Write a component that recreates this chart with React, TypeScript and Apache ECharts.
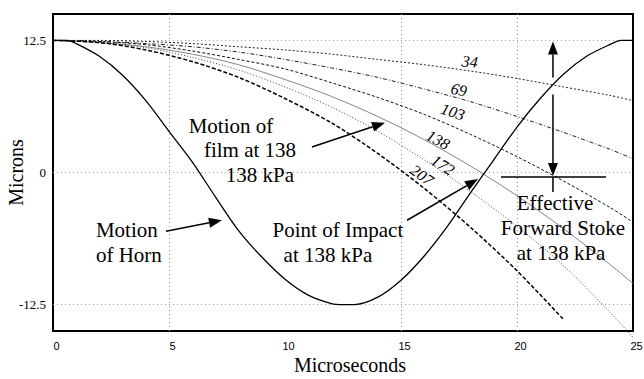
import React, { useEffect, useRef } from "react";
import * as echarts from "echarts";

// ---- axis / grid values ----
const yLabelValues = [-12.5, 0, 12.5];
const gridXValues = [5, 15, 20];
const gridYValues = [12.5, 0, -12.5];

// ---- Motion of horn ----
const hornT = [0, 0.6, 1, 2, 3, 4, 5, 6, 7, 8, 9, 10, 11, 12, 12.5, 13, 14, 15, 16, 17, 18, 19, 20, 21, 22, 23, 24, 24.5, 25];
const hornV = [12.5, 12.5, 12.2, 11.0, 9.2, 6.8, 3.9, 1.0, -2.3, -5.5, -8.0, -10.1, -11.6, -12.4, -12.5, -12.5, -11.8, -10.2, -7.9, -5.1, -1.9, 1.2, 4.3, 7.0, 9.3, 11.0, 12.1, 12.5, 12.5];

// ---- Motion of film at each pressure (kPa) ----
const filmT = [0, 2, 4, 6, 8, 10, 12, 14, 16, 18, 20, 22, 24, 25];
const film34 = [12.5, 12.5, 12.4, 12.2, 11.9, 11.6, 11.2, 10.7, 10.2, 9.6, 8.9, 8.1, 7.3, 6.8];
const film69 = [12.5, 12.4, 12.2, 11.9, 11.4, 10.7, 9.9, 9.0, 7.9, 6.7, 5.3, 3.8, 2.2, 1.3];
const film103 = [12.5, 12.4, 12.1, 11.5, 10.7, 9.8, 8.5, 7.1, 5.5, 3.6, 1.5, -0.8, -3.3, -4.7];
const film138 = [12.5, 12.3, 11.9, 11.2, 10.2, 8.8, 7.2, 5.3, 3.1, 0.6, -2.2, -5.3, -8.7, -10.5];
const film172 = [12.5, 12.3, 11.8, 10.9, 9.7, 8.1, 6.2, 3.9, 1.2, -1.8, -5.1, -8.8, -13.2, -15.6];
const film207T = [0, 2, 4, 6, 8, 10, 12, 14, 16, 18, 20, 22];
const film207 = [12.5, 12.3, 11.6, 10.5, 9.0, 7.0, 4.7, 1.8, -1.5, -5.2, -9.3, -13.9];

// ---- pressure labels (text, t, v, angle) ----
const pressureLabels = ["34", "69", "103", "138", "172", "207"];
const pressureLabelT = [17.97, 17.5, 17.24, 16.6, 16.81, 15.9];
const pressureLabelV = [10.5, 7.84, 5.75, 3.09, 0.71, -0.24];
const pressureLabelAngle = [6, 12, 18, 28, 33, 36];

const zip = (xs: number[], ys: number[]) => xs.map((x, i) => [x, ys[i]]);

const SERIF = '"Liberation Serif", "Times New Roman", Times, serif';
const SANS = '"Liberation Sans", Arial, Helvetica, sans-serif';

export default function App() {
  const ref = useRef<HTMLDivElement>(null);

  useEffect(() => {
    document.body.style.margin = "0";
    if (!ref.current) return;
    const chart = echarts.init(ref.current, undefined, { renderer: "svg" });

    const film = (name: string, t: number[], v: number[], lineStyle: any, clip = true) => ({
      name,
      type: "line",
      data: zip(t, v),
      showSymbol: false,
      symbol: "none",
      smooth: 0.3,
      clip,
      silent: true,
      lineStyle,
      z: 3,
    });

    const option: any = {
      animation: false,
      grid: {
        left: 53,
        right: 11,
        top: 14,
        bottom: 48,
        show: true,
        borderColor: "#000",
        borderWidth: 2,
        backgroundColor: "transparent",
        containLabel: false,
        outerBoundsMode: "none",
      },
      xAxis: {
        type: "value",
        min: 0,
        max: 25,
        interval: 5,
        axisLine: { show: false },
        axisTick: { show: false },
        splitLine: { show: false },
        axisLabel: {
          fontFamily: SANS,
          fontSize: 11,
          color: "#000",
          margin: 9,
          padding: [0, 0, 0, 7],
        },
        name: "Microseconds",
        nameLocation: "middle",
        nameGap: 24,
        nameMoveOverlap: false,
        nameTextStyle: { fontFamily: SERIF, fontSize: 20, color: "#000", padding: [0, 0, 0, 14] },
      },
      yAxis: {
        type: "value",
        min: -15,
        max: 15,
        interval: 2.5,
        axisLine: { show: false },
        axisTick: { show: false },
        splitLine: { show: false },
        axisLabel: {
          formatter: (v: number) => (yLabelValues.includes(v) ? String(v) : ""),
          fontFamily: SERIF,
          fontSize: 13,
          color: "#000",
          margin: 7,
        },
        name: "Microns",
        nameLocation: "middle",
        nameGap: 27,
        nameMoveOverlap: false,
        nameTextStyle: { fontFamily: SERIF, fontSize: 20, color: "#000" },
      },
      series: [
        {
          name: "Horn",
          type: "line",
          data: zip(hornT, hornV),
          showSymbol: false,
          symbol: "none",
          smooth: 0.3,
          silent: true,
          lineStyle: { color: "#000", width: 1.3 },
          z: 4,
          markLine: {
            silent: true,
            symbol: "none",
            label: { show: false },
            lineStyle: { type: [1, 3], color: "#999", width: 1 },
            z: 1,
            data: [
              ...gridYValues.map((y) => ({ yAxis: y })),
              ...gridXValues.map((x) => ({ xAxis: x })),
            ],
          },
        },
        film("34", filmT, film34, { type: [2, 2], color: "#222", width: 1 }),
        film("69", filmT, film69, { type: [4, 2, 1, 2], color: "#222", width: 1 }),
        film("103", filmT, film103, { type: [3, 2], color: "#111", width: 1 }),
        film("138", filmT, film138, { type: "solid", color: "#777", width: 0.9 }),
        film("172", filmT, film172, { type: [1, 2], color: "#444", width: 1 }, false),
        film("207", film207T, film207, { type: [4, 2], color: "#000", width: 1.5 }),
      ],
    };

    chart.setOption(option);

    const px = (t: number, v: number): number[] =>
      chart.convertToPixel({ xAxisIndex: 0, yAxisIndex: 0 }, [t, v]) as number[];

    const graphics: any[] = [];

    const arrow = (a: number[], b: number[], headLen = 13, headW = 10) => {
      const p1 = px(a[0], a[1]);
      const p2 = px(b[0], b[1]);
      const dx = p2[0] - p1[0];
      const dy = p2[1] - p1[1];
      const len = Math.sqrt(dx * dx + dy * dy);
      const ux = dx / len;
      const uy = dy / len;
      const bx = p2[0] - ux * headLen;
      const by = p2[1] - uy * headLen;
      graphics.push({
        type: "line",
        silent: true,
        shape: { x1: p1[0], y1: p1[1], x2: bx, y2: by },
        style: { stroke: "#000", lineWidth: 1.5 },
        z: 10,
      });
      graphics.push({
        type: "polygon",
        silent: true,
        shape: {
          points: [
            [p2[0], p2[1]],
            [bx - uy * headW / 2, by + ux * headW / 2],
            [bx + uy * headW / 2, by - ux * headW / 2],
          ],
        },
        style: { fill: "#000" },
        z: 10,
      });
    };

    const seg = (a: number[], b: number[]) => {
      const p1 = px(a[0], a[1]);
      const p2 = px(b[0], b[1]);
      graphics.push({
        type: "line",
        silent: true,
        shape: { x1: p1[0], y1: p1[1], x2: p2[0], y2: p2[1] },
        style: { stroke: "#000", lineWidth: 1.5 },
        z: 10,
      });
    };

    const text = (s: string, t: number, v: number, align = "center") => {
      const p = px(t, v);
      graphics.push({
        type: "text",
        silent: true,
        x: p[0],
        y: p[1],
        z: 11,
        style: {
          text: s,
          fontFamily: SERIF,
          fontSize: 21,
          fill: "#000",
          align,
          verticalAlign: "middle",
        },
      });
    };

    // pressure labels
    pressureLabels.forEach((s, i) => {
      const p = px(pressureLabelT[i], pressureLabelV[i]);
      graphics.push({
        type: "text",
        silent: true,
        x: p[0],
        y: p[1],
        rotation: (-pressureLabelAngle[i] * Math.PI) / 180,
        z: 11,
        style: {
          text: s,
          fontFamily: SERIF,
          fontSize: 16,
          fontStyle: "italic",
          fill: "#000",
          align: "center",
          verticalAlign: "middle",
        },
      });
    });

    // Motion of film
    text("Motion of", 7.67, 4.42);
    text("film at 138", 8.49, 2.14);
    text("138 kPa", 8.92, -0.24);
    arrow([11.16, 2.42], [14.31, 4.71]);

    // Motion of horn
    text("Motion", 1.85, -5.47, "left");
    text("of Horn", 1.85, -7.84, "left");
    arrow([4.87, -5.56], [7.28, -4.52]);

    // Point of impact
    text("Point of Impact", 12.28, -5.47);
    text("at 138 kPa", 11.85, -7.84);
    arrow([15.26, -4.52], [18.32, -0.62]);

    // Effective forward stroke
    arrow([21.55, 8.98], [21.55, 12.4]);
    arrow([21.55, 7.37], [21.55, -0.33]);
    seg([19.31, -0.43], [23.84, -0.43]);
    seg([21.55, -0.43], [21.55, -1.85]);
    text("Effective", 21.64, -2.9);
    text("Forward Stoke", 21.98, -5.28);
    text("at 138 kPa", 21.9, -7.65);

    chart.setOption({ graphic: graphics });

    return () => {
      chart.dispose();
    };
  }, []);

  return <div ref={ref} style={{ width: 644, height: 379 }} />;
}
